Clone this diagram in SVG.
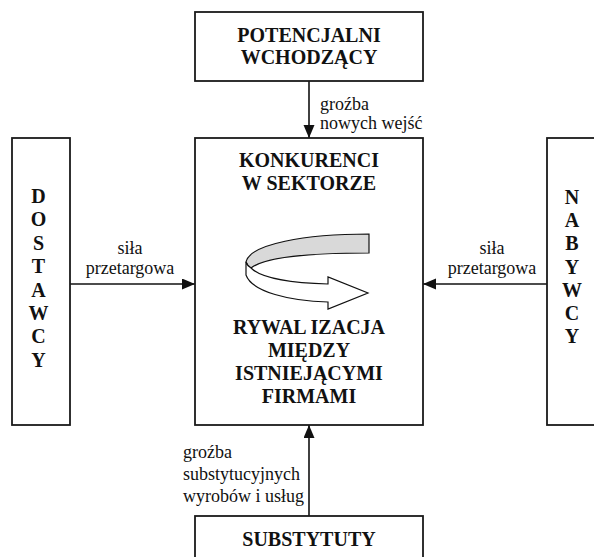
<svg xmlns="http://www.w3.org/2000/svg" width="594" height="557" viewBox="0 0 594 557">
<style>
.box{fill:#fff;stroke:#1a1a1a;stroke-width:1.8}
.b{font-family:'Liberation Serif','Times New Roman',Tinos,'DejaVu Serif',serif;font-weight:bold;font-size:20px;fill:#111;text-anchor:middle}
.l{font-family:'Liberation Serif','Times New Roman',Tinos,'DejaVu Serif',serif;font-size:18px;fill:#111}
.c{stroke:#111;stroke-width:1.6;fill:none}
</style>
<defs>
<marker id="ah" markerUnits="userSpaceOnUse" markerWidth="14" markerHeight="12" refX="13" refY="5.5" orient="auto">
<path d="M0,0 L13,5.5 L0,11 Z" fill="#111"/>
</marker>
</defs>
<rect width="594" height="557" fill="#fff"/>
<g id="connectors">
<line class="c" x1="309" y1="81" x2="309" y2="138" marker-end="url(#ah)"/>
<line class="c" x1="70" y1="284" x2="195" y2="284" marker-end="url(#ah)"/>
<line class="c" x1="547" y1="284" x2="423" y2="284" marker-end="url(#ah)"/>
<line class="c" x1="309" y1="516" x2="309" y2="425" marker-end="url(#ah)"/>
<text class="l" x="320" y="110">groźba</text>
<text class="l" x="320" y="129">nowych wejść</text>
<text class="l" x="130" y="254" text-anchor="middle">siła</text>
<text class="l" x="130" y="274" text-anchor="middle">przetargowa</text>
<text class="l" x="492" y="254" text-anchor="middle">siła</text>
<text class="l" x="492" y="274" text-anchor="middle">przetargowa</text>
<text class="l" x="183" y="458">groźba</text>
<text class="l" x="183" y="480">substytucyjnych</text>
<text class="l" x="183" y="502">wyrobów i usług</text>
</g>
<g id="potencjalni">
<rect class="box" x="195" y="12" width="228" height="69"/>
<text class="b" x="309" y="42">POTENCJALNI</text>
<text class="b" x="309" y="64">WCHODZĄCY</text>
</g>
<g id="konkurenci">
<rect class="box" x="195" y="138" width="228" height="287"/>
<text class="b" x="309" y="167">KONKURENCI</text>
<text class="b" x="309" y="190">W SEKTORZE</text>
<path d="M369,234 C305,234 250,244 246,262 C247,265 249,267 251,268 C265,257 315,253 369,253 Z" fill="#d9d9d9" stroke="#111" stroke-width="1.2"/>
<path d="M246,262 L246,275 C252,292 290,301 328,302 L328,309 L368,293 L328,277 L328,284 C295,283 262,279 251,268 C249,267 247,265 246,262 Z" fill="#fff" stroke="#111" stroke-width="1.2"/>
<text class="b" x="309" y="334">RYWAL IZACJA</text>
<text class="b" x="309" y="357">MIĘDZY</text>
<text class="b" x="309" y="380">ISTNIEJĄCYMI</text>
<text class="b" x="309" y="403">FIRMAMI</text>
</g>
<g id="dostawcy">
<rect class="box" x="12" y="138" width="58" height="287"/>
<text class="b" x="38.5" y="203">D</text>
<text class="b" x="38.5" y="226.4">O</text>
<text class="b" x="38.5" y="249.8">S</text>
<text class="b" x="38.5" y="273.2">T</text>
<text class="b" x="38.5" y="296.6">A</text>
<text class="b" x="38.5" y="320">W</text>
<text class="b" x="38.5" y="343.4">C</text>
<text class="b" x="38.5" y="366.8">Y</text>
</g>
<g id="nabywcy">
<rect class="box" x="547" y="138" width="60" height="287"/>
<text class="b" x="572" y="204">N</text>
<text class="b" x="572" y="227.2">A</text>
<text class="b" x="572" y="250.4">B</text>
<text class="b" x="572" y="273.6">Y</text>
<text class="b" x="572" y="296.8">W</text>
<text class="b" x="572" y="320">C</text>
<text class="b" x="572" y="343.2">Y</text>
</g>
<g id="substytuty">
<rect class="box" x="195" y="516" width="228" height="60"/>
<text class="b" x="309" y="546">SUBSTYTUTY</text>
</g>
</svg>
